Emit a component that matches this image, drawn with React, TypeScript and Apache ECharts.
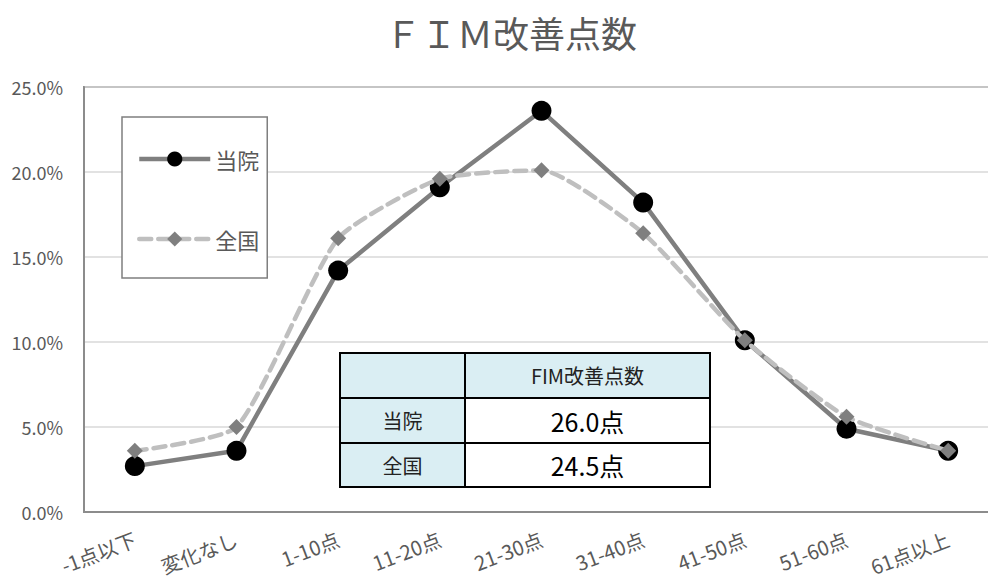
import React, { useEffect, useRef } from "react";
import * as echarts from "echarts";

const categories = ["-1点以下", "変化なし", "1-10点", "11-20点", "21-30点", "31-40点", "41-50点", "51-60点", "61点以上"];
const hospitalValues = [2.7, 3.6, 14.2, 19.1, 23.6, 18.2, 10.1, 4.9, 3.6];
const nationalValues = [3.6, 5.0, 16.1, 19.6, 20.1, 16.4, 10.1, 5.6, 3.6];
const seriesNames = ["当院", "全国"];
const yTicks = [0, 5, 10, 15, 20, 25];
const tableHeader = "FIM改善点数";
const tableRowLabels = ["当院", "全国"];
const tableValues = ["26.0点", "24.5点"];

const FONT = "'Noto Sans CJK JP', 'Noto Sans', sans-serif";

export default function App() {
  const ref = useRef<HTMLDivElement>(null);
  useEffect(() => {
    if (!ref.current) return;
    const chart = echarts.init(ref.current, undefined, { renderer: "svg" });

    const tx = 340, tw = 370, col = 465;
    const rowY = [353, 398, 443, 487];
    const lightBlue = "#daeef3";
    const tableGraphics: any[] = [];
    tableGraphics.push({ type: "rect", shape: { x: tx, y: rowY[0], width: tw, height: rowY[1] - rowY[0] }, style: { fill: lightBlue }, z: 100 });
    for (let i = 0; i < tableRowLabels.length; i++) {
      tableGraphics.push({ type: "rect", shape: { x: tx, y: rowY[i + 1], width: col - tx, height: rowY[i + 2] - rowY[i + 1] }, style: { fill: lightBlue }, z: 100 });
      tableGraphics.push({ type: "rect", shape: { x: col, y: rowY[i + 1], width: tx + tw - col, height: rowY[i + 2] - rowY[i + 1] }, style: { fill: "#ffffff" }, z: 100 });
    }
    tableGraphics.push({ type: "rect", shape: { x: tx, y: rowY[0], width: tw, height: rowY[3] - rowY[0] }, style: { fill: "none", stroke: "#000", lineWidth: 2 }, z: 101 });
    tableGraphics.push({ type: "line", shape: { x1: col, y1: rowY[0], x2: col, y2: rowY[3] }, style: { stroke: "#000", lineWidth: 2 }, z: 101 });
    tableGraphics.push({ type: "line", shape: { x1: tx, y1: rowY[1], x2: tx + tw, y2: rowY[1] }, style: { stroke: "#000", lineWidth: 2 }, z: 101 });
    tableGraphics.push({ type: "line", shape: { x1: tx, y1: rowY[2], x2: tx + tw, y2: rowY[2] }, style: { stroke: "#000", lineWidth: 2 }, z: 101 });
    tableGraphics.push({ type: "text", x: (col + tx + tw) / 2, y: (rowY[0] + rowY[1]) / 2, style: { text: tableHeader, fill: "#222", font: `20px ${FONT}`, align: "center", verticalAlign: "middle" }, z: 102 });
    for (let i = 0; i < tableRowLabels.length; i++) {
      const cy = (rowY[i + 1] + rowY[i + 2]) / 2;
      tableGraphics.push({ type: "text", x: (tx + col) / 2, y: cy, style: { text: tableRowLabels[i], fill: "#222", font: `20px ${FONT}`, align: "center", verticalAlign: "middle" }, z: 102 });
      tableGraphics.push({ type: "text", x: (col + tx + tw) / 2, y: cy, style: { text: tableValues[i], fill: "#000", font: `25px ${FONT}`, align: "center", verticalAlign: "middle" }, z: 102 });
    }

    chart.setOption({
      animation: false,
      backgroundColor: "#ffffff",
      title: {
        text: "ＦＩＭ改善点数",
        left: 385,
        top: 14,
        padding: 0,
        textStyle: { fontFamily: FONT, fontSize: 36, fontWeight: "normal", color: "#595959" },
      },
      legend: {
        orient: "vertical",
        left: 122,
        top: 117,
        padding: [31, 8, 28, 15],
        itemGap: 58,
        itemWidth: 71,
        itemHeight: 19,
        itemTextGap: 8,
        borderColor: "#7f7f7f",
        borderWidth: 1.5,
        backgroundColor: "#ffffff",
        lineStyle: { width: 4.5 },
        textStyle: { fontFamily: FONT, fontSize: 22, lineHeight: 20, color: "#595959" },
        data: seriesNames,
      },
      grid: {
        left: 84,
        top: 87,
        width: 915,
        height: 425,
        outerBoundsMode: "none",
        containLabel: false,
        show: true,
        borderColor: "#8c8c8c",
        borderWidth: 2,
        backgroundColor: "transparent",
      },
      xAxis: {
        type: "category",
        data: categories,
        boundaryGap: true,
        axisLine: { show: true, lineStyle: { color: "#8c8c8c", width: 2 } },
        axisTick: { show: false },
        axisLabel: { rotate: 21, margin: 26, fontFamily: FONT, fontSize: 20, color: "#595959", interval: 0 },
      },
      yAxis: {
        type: "value",
        min: yTicks[0],
        max: yTicks[yTicks.length - 1],
        interval: 5,
        axisLine: { show: true, lineStyle: { color: "#8c8c8c", width: 2 } },
        axisTick: { show: false },
        splitLine: { lineStyle: { color: "#d9d9d9", width: 1.5 } },
        axisLabel: {
          margin: 21,
          fontFamily: FONT,
          fontSize: 18,
          color: "#595959",
          formatter: (v: number) => v.toFixed(1) + "%",
        },
      },
      series: [
        {
          name: seriesNames[0],
          type: "line",
          data: hospitalValues,
          symbol: "circle",
          symbolSize: 20,
          lineStyle: { color: "#7f7f7f", width: 4.5 },
          itemStyle: { color: "#000000" },
          z: 3,
        },
        {
          name: seriesNames[1],
          type: "line",
          data: nationalValues,
          smooth: 0.18,
          symbol: "diamond",
          symbolSize: 16,
          lineStyle: { color: "#bfbfbf", width: 4.5, type: [12, 7], cap: "round" },
          itemStyle: { color: "#7f7f7f" },
          z: 4,
        },
      ],
      graphic: tableGraphics,
    });
    return () => chart.dispose();
  }, []);
  return <div ref={ref} style={{ position: "fixed", left: 0, top: 0, width: 988, height: 584, background: "#fff" }} />;
}
